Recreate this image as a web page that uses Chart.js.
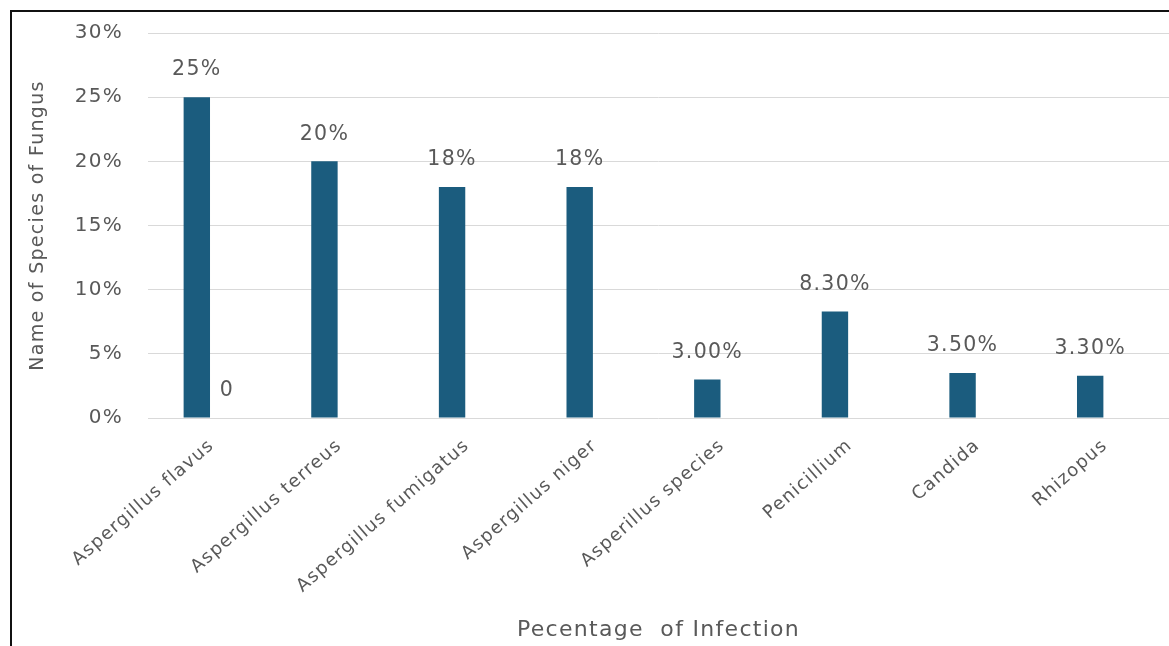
<!DOCTYPE html>
<html>
<head>
<meta charset="utf-8">
<script src="https://cdn.jsdelivr.net/npm/chart.js@4.4.1/dist/chart.umd.min.js"></script>
<style>
  html, body { margin: 0; padding: 0; background: #fff; }
  #wrap { position: relative; width: 1169px; height: 646px; overflow: hidden; }
  #frame { position: absolute; left: 10px; top: 10px; width: 1200px; height: 700px;
           border-left: 2px solid #111; border-top: 2px solid #111; pointer-events: none; }
  canvas { position: absolute; left: 0; top: 0; }
</style>
</head>
<body>
<div id="wrap">
  <canvas id="c" width="1169" height="646"></canvas>
  <div id="frame"></div>
</div>
<script>
const categories = ["Aspergillus flavus", "Aspergillus terreus", "Aspergillus fumigatus", "Aspergillus niger",
                    "Asperillus species", "Penicillium", "Candida", "Rhizopus"];
const infectionValues = [25, 20, 18, 18, 3.0, 8.3, 3.5, 3.3];
const infectionLabels = ["25%", "20%", "18%", "18%", "3.00%", "8.30%", "3.50%", "3.30%"];
const secondValues = [0, null, null, null, null, null, null, null];
const secondLabels = ["0", "", "", "", "", "", "", ""];
const yTicks = [0, 5, 10, 15, 20, 25, 30];
const yAxisTitle = "Name of Species of Fungus";
const xAxisTitle = "Pecentage  of Infection";

const FONT = "'DejaVu Sans', 'Liberation Sans', sans-serif";
const GRAY = "#595959";
const SPACING = "1.3px";

const spacingPlugin = {
  id: 'spacing',
  beforeLayout(chart) { chart.ctx.letterSpacing = SPACING; },
  beforeDraw(chart) {
    const ctx = chart.ctx;
    ctx.letterSpacing = SPACING;
    ctx.save(); ctx.fillStyle = '#fff'; ctx.fillRect(0, 0, chart.width, chart.height); ctx.restore();
  }
};

const labelPlugin = {
  id: 'barLabels',
  afterDatasetsDraw(chart) {
    const ctx = chart.ctx;
    const labelSets = [infectionLabels, secondLabels];
    ctx.save();
    ctx.letterSpacing = SPACING;
    ctx.font = "20.5px " + FONT;
    ctx.fillStyle = GRAY;
    ctx.textAlign = "center";
    ctx.textBaseline = "middle";
    chart.data.datasets.forEach((ds, di) => {
      const meta = chart.getDatasetMeta(di);
      meta.data.forEach((bar, i) => {
        const txt = labelSets[di][i];
        if (!txt || ds.data[i] === null) return;
        ctx.fillText(txt, bar.x, bar.y - 27);
      });
    });
    ctx.restore();
  }
};

new Chart(document.getElementById('c'), {
  type: 'bar',
  data: {
    labels: categories,
    datasets: [
      { data: infectionValues, backgroundColor: '#1b5c7e', categoryPercentage: 0.47, barPercentage: 0.88 },
      { data: secondValues, backgroundColor: '#1b5c7e', categoryPercentage: 0.47, barPercentage: 0.88 }
    ]
  },
  options: {
    responsive: false,
    animation: false,
    layout: { padding: { top: 33, right: 0, bottom: 0, left: 0 } },
    plugins: { legend: { display: false }, tooltip: { enabled: false } },
    scales: {
      x: {
        grid: { display: false, drawTicks: false },
        border: { display: false },
        ticks: { color: GRAY, font: { family: FONT, size: 18 }, maxRotation: 41, minRotation: 41, padding: 17, autoSkip: false },
        title: { display: true, text: xAxisTitle, color: GRAY, font: { family: FONT, size: 22 }, padding: { top: 0, bottom: 3 } },
        afterFit(scale) { scale.height = 228; scale.paddingLeft = 0; scale.paddingRight = 0; }
      },
      y: {
        min: 0, max: 30,
        afterBuildTicks(scale) { scale.ticks = yTicks.map(v => ({ value: v })); },
        grid: { color: '#d9d9d9', lineWidth: 1, drawTicks: false },
        border: { display: false },
        ticks: { color: GRAY, font: { family: FONT, size: 20 }, padding: 25, callback: v => v + "%" },
        title: { display: true, text: yAxisTitle, color: GRAY, font: { family: FONT, size: 19 }, padding: { top: 27, bottom: 0 } },
        afterFit(scale) { scale.width = 148; scale.paddingTop = 0; scale.paddingBottom = 0; }
      }
    }
  },
  plugins: [spacingPlugin, labelPlugin]
});
</script>
</body>
</html>
